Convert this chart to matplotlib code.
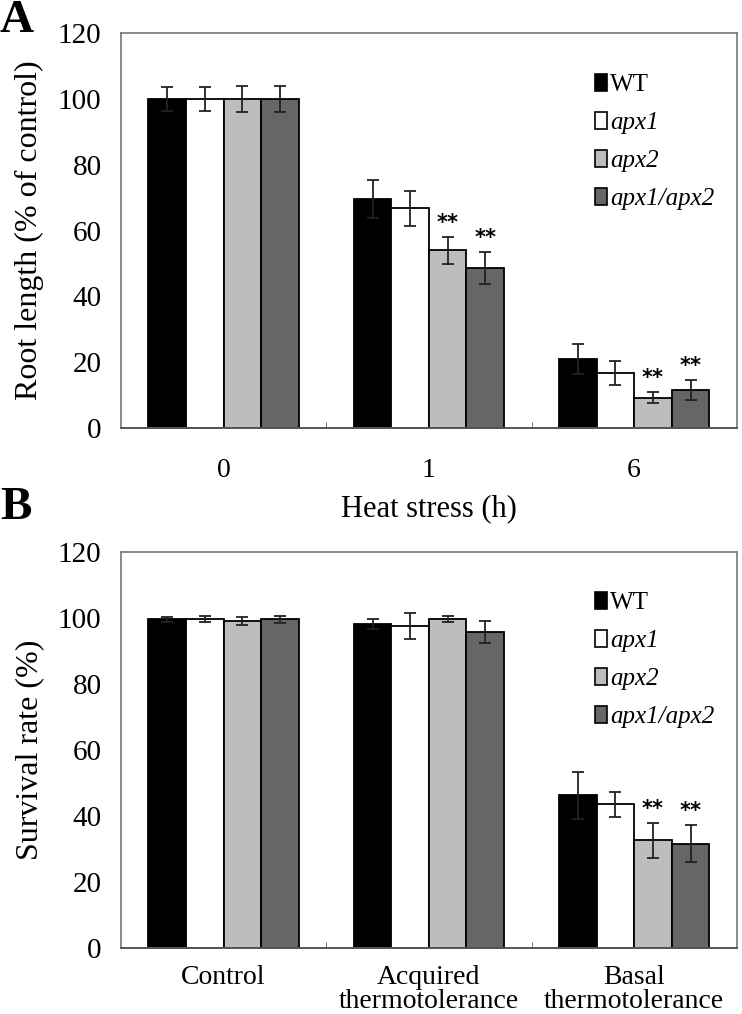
import numpy as np
import matplotlib
matplotlib.use("Agg")
from matplotlib import pyplot as plt
from matplotlib.patches import Patch

plt.rcParams['font.family'] = ['Liberation Serif', 'DejaVu Serif']

genotypes = ['WT', 'apx1', 'apx2', 'apx1/apx2']
colors = ['#000000', '#ffffff', '#bdbdbd', '#666666']

# panel A: root length (% of control)
a_groups = ['0', '1', '6']
a_wt = [100, 69.7, 21.0]
a_apx1 = [100, 66.8, 16.8]
a_apx2 = [100, 54.1, 9.2]
a_dbl = [100, 48.7, 11.6]
a_wt_err = [3.7, 5.7, 4.5]
a_apx1_err = [3.7, 5.4, 3.6]
a_apx2_err = [4.0, 4.1, 1.7]
a_dbl_err = [4.0, 4.8, 3.0]
a_stars = [[False, False, False, False],
           [False, False, True, True],
           [False, False, True, True]]

# panel B: survival rate (%)
b_groups = ['Control', 'Acquired\nthermotolerance', 'Basal\nthermotolerance']
b_wt = [99.5, 98.1, 46.3]
b_apx1 = [99.6, 97.5, 43.5]
b_apx2 = [99.1, 99.5, 32.7]
b_dbl = [99.5, 95.7, 31.6]
b_wt_err = [0.8, 1.5, 7.1]
b_apx1_err = [1.0, 3.8, 3.7]
b_apx2_err = [1.2, 0.9, 5.3]
b_dbl_err = [1.0, 3.3, 5.6]
b_stars = [[False, False, False, False],
           [False, False, False, False],
           [False, False, True, True]]


def draw_panel(ax, groups, vals, errs, stars, ylabel, xpad):
    x = np.arange(len(groups))
    w = 0.183
    for i in range(4):
        pos = x + (i - 1.5) * w
        ax.bar(pos, vals[i], w, color=colors[i], edgecolor='black', linewidth=1.3,
               yerr=errs[i], error_kw=dict(ecolor='#222222', elinewidth=1.3, capsize=4, capthick=1.3),
               zorder=2)
        for j in range(len(groups)):
            if stars[j][i]:
                ax.text(pos[j], vals[i][j] + errs[i][j] + 1.2, '**', ha='center', va='bottom',
                        fontsize=15, fontweight='bold', family='DejaVu Sans')
    ax.set_xlim(-0.5, 2.5)
    ax.set_ylim(0, 120)
    ax.set_yticks(range(0, 121, 20))
    ax.set_xticks(x)
    ax.set_xticklabels(groups, fontsize=20, linespacing=0.95)
    ax.set_xticks([0.5, 1.5], minor=True)
    ax.tick_params(axis='x', which='major', length=0, pad=xpad)
    ax.tick_params(axis='x', which='minor', length=4, direction='in', color='#555555')
    ax.tick_params(axis='y', length=0, labelsize=21, pad=14)
    for s in ['top', 'right', 'left']:
        ax.spines[s].set_color('#777777')
        ax.spines[s].set_linewidth(1.2)
    ax.spines['bottom'].set_color('#555555')
    ax.spines['bottom'].set_linewidth(1.4)
    ax.set_ylabel(ylabel, fontsize=23, labelpad=10)
    handles = [Patch(facecolor=colors[i], edgecolor='black', linewidth=1.2) for i in range(4)]
    leg = ax.legend(handles, genotypes, loc='upper right', bbox_to_anchor=(1.0, 0.955),
                    frameon=False, fontsize=18, handlelength=0.5, handleheight=0.7,
                    handletextpad=0.12, labelspacing=0.62)
    for t in leg.get_texts()[1:]:
        t.set_style('italic')


fig = plt.figure(figsize=(7.42, 10.14), dpi=100)
ax1 = fig.add_axes([0.163, 0.578, 0.830, 0.389])
ax2 = fig.add_axes([0.163, 0.065, 0.830, 0.391])

draw_panel(ax1, a_groups, [a_wt, a_apx1, a_apx2, a_dbl],
           [a_wt_err, a_apx1_err, a_apx2_err, a_dbl_err], a_stars, 'Root length (% of control)', 22)
ax1.set_xlabel('Heat stress (h)', fontsize=22, labelpad=8)

draw_panel(ax2, b_groups, [b_wt, b_apx1, b_apx2, b_dbl],
           [b_wt_err, b_apx1_err, b_apx2_err, b_dbl_err], b_stars, 'Survival rate (%)', 12)

fig.text(0.0, 1.0, 'A', fontsize=34, fontweight='bold', va='top', ha='left')
fig.text(0.0, 0.52, 'B', fontsize=34, fontweight='bold', va='top', ha='left')

fig.savefig('out.png', dpi=100)
